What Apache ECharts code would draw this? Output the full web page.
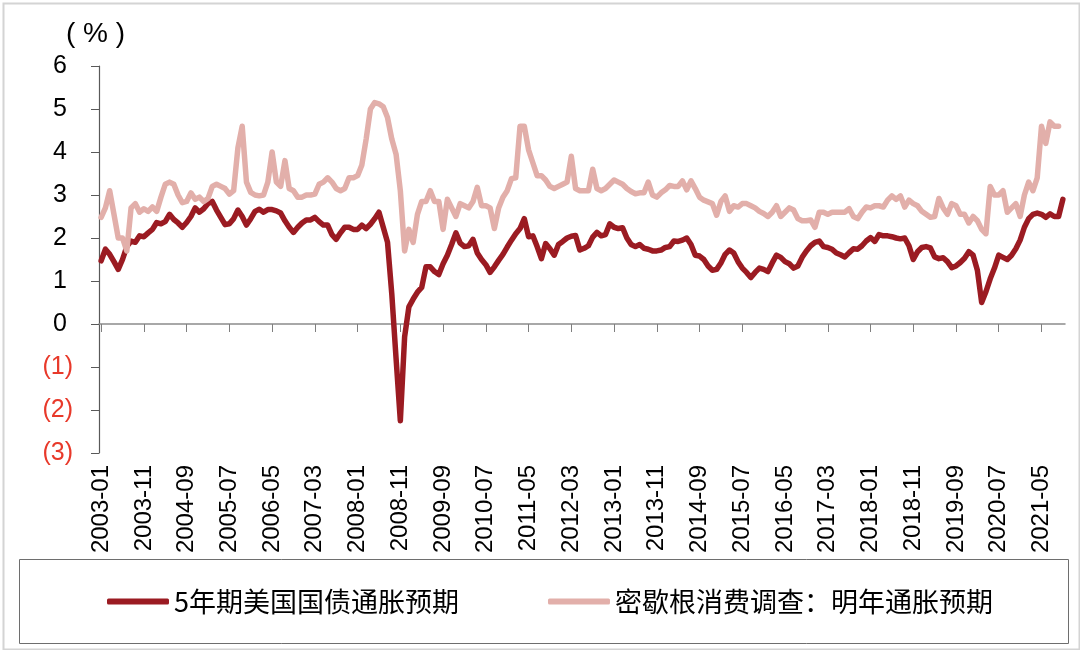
<!DOCTYPE html>
<html>
<head>
<meta charset="utf-8">
<script src="https://cdn.jsdelivr.net/npm/echarts@6/dist/echarts.min.js"></script>
<style>
html,body{margin:0;padding:0;background:#fff;}
#chart{width:1080px;height:650px;}
</style>
</head>
<body>
<div id="chart"></div>
<script>
// Month categories 2003-01 .. 2021-10
const months = [];
for (let y = 2003; y <= 2021; y++) {
  for (let m = 1; m <= 12; m++) {
    if (y === 2021 && m > 10) break;
    months.push(y + '-' + (m < 10 ? '0' + m : '' + m));
  }
}

const seriesNames = ['5年期美国国债通胀预期', '密歇根消费调查：明年通胀预期'];
const yTicks = [-3, -2, -1, 0, 1, 2, 3, 4, 5, 6];

// 5年期美国国债通胀预期 (%)
const breakeven5y = [
  1.47,1.74,1.62,1.45,1.27,1.5,1.8,1.93,1.9,2.05,
  2.03,2.12,2.2,2.36,2.33,2.38,2.55,2.43,2.35,2.25,
  2.36,2.5,2.7,2.6,2.68,2.8,2.85,2.65,2.48,2.31,
  2.33,2.45,2.65,2.5,2.3,2.45,2.62,2.67,2.6,2.66,
  2.66,2.63,2.58,2.4,2.25,2.13,2.25,2.35,2.42,2.42,
  2.48,2.38,2.3,2.3,2.08,1.97,2.12,2.25,2.25,2.2,
  2.2,2.3,2.22,2.32,2.45,2.6,2.25,1.9,0.7,-0.8,
  -2.25,-0.3,0.4,0.58,0.74,0.85,1.33,1.33,1.22,1.15,
  1.4,1.6,1.85,2.12,1.88,1.8,1.82,1.97,1.65,1.5,
  1.38,1.2,1.33,1.48,1.62,1.79,1.95,2.1,2.22,2.45,
  2.03,2.05,1.8,1.52,1.87,1.75,1.6,1.85,1.92,2.0,
  2.04,2.06,1.72,1.76,1.82,2.02,2.13,2.05,2.08,2.33,
  2.25,2.22,2.24,2.0,1.85,1.8,1.85,1.76,1.74,1.7,
  1.7,1.72,1.78,1.8,1.93,1.92,1.95,2.0,1.85,1.6,
  1.58,1.5,1.35,1.25,1.27,1.42,1.62,1.72,1.65,1.45,
  1.3,1.2,1.08,1.2,1.3,1.27,1.22,1.42,1.6,1.55,
  1.45,1.4,1.3,1.35,1.55,1.7,1.82,1.9,1.93,1.8,
  1.78,1.74,1.65,1.61,1.56,1.66,1.75,1.74,1.82,1.93,
  2.01,1.92,2.08,2.05,2.05,2.03,2.0,1.98,2.0,1.82,
  1.5,1.68,1.78,1.8,1.77,1.56,1.52,1.54,1.45,1.31,
  1.35,1.43,1.53,1.68,1.6,1.25,0.5,0.75,1.05,1.3,
  1.6,1.55,1.5,1.6,1.75,1.95,2.25,2.45,2.55,2.58,
  2.55,2.48,2.56,2.5,2.5,2.9
];

// 密歇根消费调查：明年通胀预期 (%)
const michigan1y = [
  2.48,2.7,3.1,2.55,2.0,2.0,1.7,2.7,2.8,2.6,
  2.68,2.62,2.72,2.62,2.95,3.25,3.3,3.25,3.0,2.82,
  2.85,3.05,2.9,2.95,2.85,2.92,3.2,3.25,3.2,3.15,
  3.02,3.1,4.1,4.6,3.3,3.06,3.0,2.98,3.0,3.3,
  4.0,3.3,3.2,3.8,3.15,3.1,2.95,2.95,3.0,3.0,
  3.02,3.25,3.3,3.4,3.3,3.15,3.1,3.15,3.4,3.4,
  3.45,3.7,4.3,5.0,5.15,5.12,5.05,4.8,4.3,3.95,
  3.1,1.7,2.2,1.9,2.55,2.85,2.85,3.1,2.85,2.85,
  2.2,2.9,2.7,2.5,2.8,2.75,2.7,2.85,3.18,2.75,
  2.75,2.7,2.22,2.7,2.95,3.1,3.38,3.4,4.6,4.6,
  4.05,3.75,3.45,3.45,3.35,3.2,3.15,3.2,3.25,3.3,
  3.9,3.15,3.1,3.1,3.1,3.6,3.15,3.1,3.15,3.25,
  3.35,3.3,3.25,3.15,3.08,3.03,3.05,3.05,3.3,3.0,
  2.95,3.05,3.12,3.22,3.2,3.2,3.33,3.12,3.33,3.15,
  2.95,2.88,2.84,2.8,2.53,2.85,2.98,2.62,2.75,2.72,
  2.8,2.8,2.75,2.7,2.62,2.57,2.5,2.6,2.75,2.5,
  2.6,2.7,2.65,2.45,2.4,2.4,2.42,2.25,2.6,2.6,
  2.55,2.6,2.6,2.6,2.6,2.68,2.5,2.45,2.6,2.72,
  2.7,2.75,2.75,2.72,2.88,2.98,2.9,2.98,2.72,2.88,
  2.8,2.75,2.62,2.55,2.48,2.5,2.92,2.7,2.55,2.8,
  2.75,2.55,2.55,2.35,2.5,2.4,2.2,2.1,3.2,3.0,
  3.0,3.1,2.6,2.7,2.8,2.5,3.0,3.3,3.1,3.4,
  4.6,4.2,4.7,4.6,4.6
];

const RED = '#9B1B22';
const PINK = '#E2AFAA';
const NEG = '#E8392A';
const ARIAL = "'Liberation Sans', Arial, sans-serif";

const chart = echarts.init(document.getElementById('chart'), null, {renderer: 'canvas'});

chart.setOption({
  animation: false,
  backgroundColor: '#fff',
  grid: {left: 99, right: 15, top: 66, bottom: 197, containLabel: false},
  legend: {
    left: 102, top: 583,
    icon: 'roundRect', itemWidth: 62, itemHeight: 6, itemGap: 89,
    textStyle: {fontFamily: "'Noto Sans CJK SC', sans-serif", fontSize: 27, color: '#000'},
    data: seriesNames
  },
  xAxis: [
    {
      type: 'category', data: months, boundaryGap: true, position: 'bottom',
      axisLine: {show: false, onZero: false},
      axisTick: {show: false},
      axisLabel: {
        interval: 9, rotate: 90, margin: 12,
        fontFamily: ARIAL, fontSize: 24, color: '#000'
      },
      splitLine: {show: false}
    },
    {
      type: 'category', data: months, boundaryGap: true, position: 'bottom',
      axisLine: {show: true, onZero: true, lineStyle: {color: '#8c8c8c', width: 1.5}},
      axisTick: {show: true, interval: 9, alignWithLabel: true, length: 8, inside: false,
                 lineStyle: {color: '#7f7f7f', width: 1}},
      axisLabel: {show: false, interval: 9},
      splitLine: {show: false}
    }
  ],
  yAxis: {
    type: 'value', min: yTicks[0], max: yTicks[yTicks.length - 1], interval: 1,
    axisLine: {show: true, lineStyle: {color: '#595959', width: 1.2}},
    axisTick: {show: true, length: 8, inside: false, lineStyle: {color: '#595959'}},
    splitLine: {show: false},
    axisLabel: {
      margin: 26,
      fontFamily: ARIAL,
      formatter: function (v) {
        return v < 0 ? '{neg|(' + Math.abs(v) + ')}' : '{pos|' + v + '}';
      },
      rich: {
        pos: {fontSize: 25, color: '#000', padding: [0, 6, 0, 0], fontFamily: ARIAL},
        neg: {fontSize: 25, color: NEG, fontFamily: ARIAL}
      }
    }
  },
  series: [
    {
      name: seriesNames[0], type: 'line', data: breakeven5y, xAxisIndex: 0,
      showSymbol: false, symbol: 'none', smooth: false,
      lineStyle: {color: RED, width: 5.5, cap: 'round', join: 'round'},
      itemStyle: {color: RED}, z: 3
    },
    {
      name: seriesNames[1], type: 'line', data: michigan1y, xAxisIndex: 0,
      showSymbol: false, symbol: 'none', smooth: false,
      lineStyle: {color: PINK, width: 5.5, cap: 'round', join: 'round'},
      itemStyle: {color: PINK}, z: 4
    }
  ],
  graphic: [
    {type: 'rect', left: 1, top: 1, z: -10, silent: true,
     shape: {width: 1076, height: 646},
     style: {fill: 'none', stroke: '#d4d4d4', lineWidth: 2}},
    {type: 'rect', left: 17, top: 557, z: -5, silent: true,
     shape: {width: 1049, height: 84},
     style: {fill: 'none', stroke: '#6e6e6e', lineWidth: 1}},
    {type: 'text', left: 66, top: 20, silent: true,
     style: {text: '( % )', fontSize: 28, fontFamily: ARIAL, fill: '#000'}}
  ]
});
</script>
</body>
</html>
